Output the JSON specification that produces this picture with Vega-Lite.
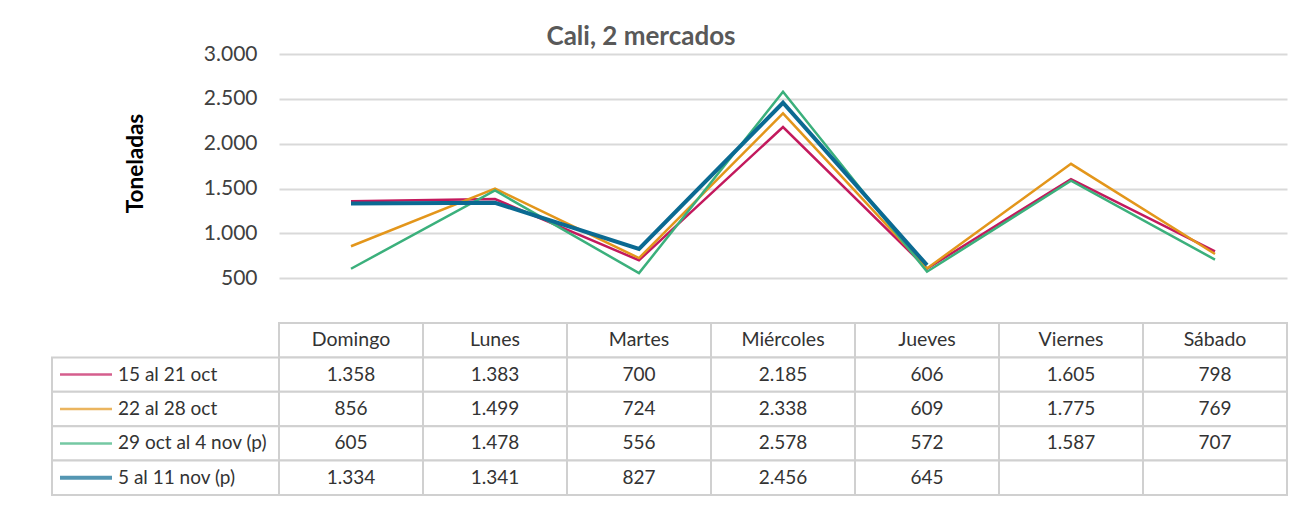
{
  "$schema": "https://vega.github.io/schema/vega-lite/v6.json",
  "padding": {"left": 51, "top": 24, "right": 2, "bottom": 2},
  "background": "white",
  "config": {
    "view": {"stroke": null},
    "font": "Lato",
    "locale": {"number": {"decimal": ",", "thousands": ".", "grouping": [3], "currency": ["", ""]}}
  },
  "datasets": {
    "d": [
      {"serie": "15 al 21 oct", "dia": "Domingo", "valor": 1358},
      {"serie": "15 al 21 oct", "dia": "Lunes", "valor": 1383},
      {"serie": "15 al 21 oct", "dia": "Martes", "valor": 700},
      {"serie": "15 al 21 oct", "dia": "Miércoles", "valor": 2185},
      {"serie": "15 al 21 oct", "dia": "Jueves", "valor": 606},
      {"serie": "15 al 21 oct", "dia": "Viernes", "valor": 1605},
      {"serie": "15 al 21 oct", "dia": "Sábado", "valor": 798},
      {"serie": "22 al 28 oct", "dia": "Domingo", "valor": 856},
      {"serie": "22 al 28 oct", "dia": "Lunes", "valor": 1499},
      {"serie": "22 al 28 oct", "dia": "Martes", "valor": 724},
      {"serie": "22 al 28 oct", "dia": "Miércoles", "valor": 2338},
      {"serie": "22 al 28 oct", "dia": "Jueves", "valor": 609},
      {"serie": "22 al 28 oct", "dia": "Viernes", "valor": 1775},
      {"serie": "22 al 28 oct", "dia": "Sábado", "valor": 769},
      {"serie": "29 oct al 4 nov (p)", "dia": "Domingo", "valor": 605},
      {"serie": "29 oct al 4 nov (p)", "dia": "Lunes", "valor": 1478},
      {"serie": "29 oct al 4 nov (p)", "dia": "Martes", "valor": 556},
      {"serie": "29 oct al 4 nov (p)", "dia": "Miércoles", "valor": 2578},
      {"serie": "29 oct al 4 nov (p)", "dia": "Jueves", "valor": 572},
      {"serie": "29 oct al 4 nov (p)", "dia": "Viernes", "valor": 1587},
      {"serie": "29 oct al 4 nov (p)", "dia": "Sábado", "valor": 707},
      {"serie": "5 al 11 nov (p)", "dia": "Domingo", "valor": 1334},
      {"serie": "5 al 11 nov (p)", "dia": "Lunes", "valor": 1341},
      {"serie": "5 al 11 nov (p)", "dia": "Martes", "valor": 827},
      {"serie": "5 al 11 nov (p)", "dia": "Miércoles", "valor": 2456},
      {"serie": "5 al 11 nov (p)", "dia": "Jueves", "valor": 645},
      {"serie": "5 al 11 nov (p)", "dia": "Viernes", "valor": null},
      {"serie": "5 al 11 nov (p)", "dia": "Sábado", "valor": null}
    ]
  },
  "columns": 2,
  "spacing": 0,
  "bounds": "flush",
  "concat": [
    {
      "width": 227,
      "height": 269,
      "data": {"values": []},
      "mark": {"type": "point", "opacity": 0},
      "encoding": {}
    },
    {
      "width": 1008,
      "height": 269,
      "data": {"name": "d"},
      "title": {"text": "Cali, 2 mercados", "fontSize": 26, "fontWeight": "bold", "color": "#595959", "anchor": "middle", "dx": -142, "offset": -7, "font": "Lato"},
      "mark": {"type": "line"},
      "encoding": {
        "x": {"field": "dia", "type": "nominal", "sort": ["Domingo", "Lunes", "Martes", "Miércoles", "Jueves", "Viernes", "Sábado"], "scale": {"type": "point", "padding": 0.5}, "axis": null},
        "y": {
          "field": "valor", "type": "quantitative",
          "scale": {"domain": [0, 3000], "nice": false},
          "axis": {
            "values": [500, 1000, 1500, 2000, 2500, 3000], "format": ",d",
            "domain": false, "ticks": false, "labelPadding": 22, "labelFontSize": 21, "labelColor": "#404040",
            "gridColor": "#D9D9D9", "gridWidth": 2,
            "title": "Toneladas", "titleFontSize": 22.5, "titleFontWeight": "bold", "titleColor": "#000000",
            "titleAngle": -90, "titleX": -144, "titleY": 109, "titleBaseline": "middle", "titleAlign": "center"
          }
        },
        "color": {
          "field": "serie", "type": "nominal",
          "scale": {"domain": ["15 al 21 oct", "22 al 28 oct", "29 oct al 4 nov (p)", "5 al 11 nov (p)"], "range": ["#C3195D", "#E3961B", "#3BB07C", "#0B6A92"]},
          "legend": null
        },
        "strokeWidth": {"condition": {"test": "datum.serie === '5 al 11 nov (p)'", "value": 4}, "value": 2.5}
      }
    },
    {
      "width": 227,
      "height": 172,
      "data": {"name": "d"},
      "transform": [{"filter": "datum.dia === 'Domingo'"}],
      "encoding": {
        "y": {"field": "serie", "type": "nominal", "scale": {"domain": ["hdr", "15 al 21 oct", "22 al 28 oct", "29 oct al 4 nov (p)", "5 al 11 nov (p)"], "paddingInner": 0, "paddingOuter": 0}, "axis": null}
      },
      "layer": [
        {"mark": {"type": "rect", "fill": "white", "stroke": "#D0D0D0", "strokeWidth": 2}},
        {
          "transform": [{"filter": "datum.serie !== '5 al 11 nov (p)'"}],
          "mark": {"type": "tick", "orient": "horizontal", "size": 52, "thickness": 2.5, "xOffset": -79.5},
          "encoding": {"color": {"field": "serie", "type": "nominal", "legend": null}}
        },
        {
          "transform": [{"filter": "datum.serie === '5 al 11 nov (p)'"}],
          "mark": {"type": "tick", "orient": "horizontal", "size": 52, "thickness": 4, "xOffset": -79.5},
          "encoding": {"color": {"field": "serie", "type": "nominal", "legend": null}}
        },
        {
          "mark": {"type": "text", "align": "left", "dx": -47.5, "fontSize": 19, "color": "#333333"},
          "encoding": {"text": {"field": "serie"}}
        }
      ]
    },
    {
      "width": 1008,
      "height": 172,
      "data": {"name": "d"},
      "encoding": {
        "x": {"field": "dia", "type": "nominal", "sort": ["Domingo", "Lunes", "Martes", "Miércoles", "Jueves", "Viernes", "Sábado"], "scale": {"paddingInner": 0, "paddingOuter": 0}, "axis": null}
      },
      "layer": [
        {
          "transform": [{"filter": "datum.serie === '15 al 21 oct'"}],
          "mark": {"type": "rect", "fill": "white", "stroke": "#D0D0D0", "strokeWidth": 2},
          "encoding": {"y": {"datum": "hdr", "type": "nominal", "scale": {"domain": ["hdr", "15 al 21 oct", "22 al 28 oct", "29 oct al 4 nov (p)", "5 al 11 nov (p)"], "paddingInner": 0, "paddingOuter": 0}, "axis": null}}
        },
        {
          "transform": [{"filter": "datum.serie === '15 al 21 oct'"}],
          "mark": {"type": "text", "fontSize": 19.5, "color": "#333333"},
          "encoding": {"y": {"datum": "hdr", "type": "nominal"}, "text": {"field": "dia"}}
        },
        {
          "mark": {"type": "rect", "fill": "white", "stroke": "#D0D0D0", "strokeWidth": 2},
          "encoding": {"y": {"field": "serie", "type": "nominal"}}
        },
        {
          "transform": [{"filter": "datum.valor != null"}],
          "mark": {"type": "text", "fontSize": 19, "color": "#333333"},
          "encoding": {"y": {"field": "serie", "type": "nominal"}, "text": {"field": "valor", "type": "quantitative", "format": ",d"}}
        }
      ]
    }
  ]
}
